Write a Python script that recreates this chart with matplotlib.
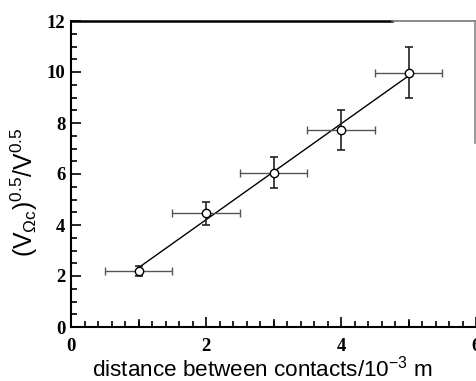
import numpy as np
import matplotlib
matplotlib.use("Agg")
import matplotlib.pyplot as plt
from matplotlib.ticker import MultipleLocator

plt.rcParams['mathtext.fontset'] = 'custom'
plt.rcParams['mathtext.rm'] = 'Liberation Sans'

distance = [1, 2, 3, 4, 5]
ratio = [2.21, 4.46, 6.05, 7.73, 9.98]
ratio_err = [0.2, 0.45, 0.6, 0.78, 1.0]
distance_err = [0.5, 0.5, 0.5, 0.5, 0.5]
xticks = [0, 2, 4, 6]
yticks = [0, 2, 4, 6, 8, 10, 12]

fig = plt.figure(figsize=(4.77, 3.81), dpi=100)
ax = fig.add_axes([71/477, 1-327/381, 405/477, 306/381])

# fit line
slope, intercept = np.polyfit(distance, ratio, 1)
xf = np.array([distance[0], distance[-1]])
ax.plot(xf, slope*xf + intercept, color='black', lw=1.0, zorder=2)

ax.errorbar(distance, ratio, xerr=distance_err, fmt='none', ecolor='#555555',
            elinewidth=1.0, capsize=3, capthick=1.0, zorder=3)
ax.errorbar(distance, ratio, yerr=ratio_err, fmt='none', ecolor='#222222',
            elinewidth=1.2, capsize=3, capthick=1.2, zorder=3)
ax.plot(distance, ratio, 'o', mfc='white', mec='black', ms=6, mew=1.0, zorder=4)

ax.set_xlim(0, 6)
ax.set_ylim(0, 12)
ax.set_xticks(xticks)
ax.set_yticks(yticks)
ax.xaxis.set_minor_locator(MultipleLocator(0.2))
ax.yaxis.set_minor_locator(MultipleLocator(0.5))
ax.tick_params(which='both', direction='in', top=False, right=False, width=1.2)
ax.tick_params(which='major', length=7)
ax.tick_params(which='minor', length=4)
# extra major-size ticks at odd integers on x
for xv in [1, 3, 5]:
    ax.plot([xv, xv], [0, 12*7/306], color='black', lw=1.2, clip_on=False, zorder=5)

for lab in ax.get_xticklabels() + ax.get_yticklabels():
    lab.set_family('Liberation Serif')
    lab.set_fontweight('bold')
    lab.set_fontsize(13.5)
ax.tick_params(axis='x', pad=8)
ax.tick_params(axis='y', pad=4)

ax.spines['left'].set_linewidth(1.5)
ax.spines['bottom'].set_linewidth(1.5)
ax.spines['top'].set_visible(False)
ax.spines['right'].set_visible(False)
# top spine: black then gray; partial right spine in gray
ax.plot([0, (392-71)/67.5], [12, 12], color='black', lw=1.8, clip_on=False, zorder=5)
ax.plot([(392-71)/67.5, 6], [12, 12], color='#777777', lw=1.2, clip_on=False, zorder=5)
ax.plot([5.99, 5.99], [12, 12-(143-21)/25.5], color='#888888', lw=1.2, clip_on=False, zorder=5)

ax.set_xlabel('distance between contacts/10$^{-3}$ m', family='Liberation Sans',
              fontsize=16.2)
ax.xaxis.set_label_coords(0.473, -0.093)
ax.set_ylabel(r'$(\mathrm{V}_{\Omega\mathrm{c}})^{0.5}/\mathrm{V}^{0.5}$', fontsize=17.8)
ax.yaxis.set_label_coords(-0.077, 0.44)

fig.savefig('out.png', dpi=100)
